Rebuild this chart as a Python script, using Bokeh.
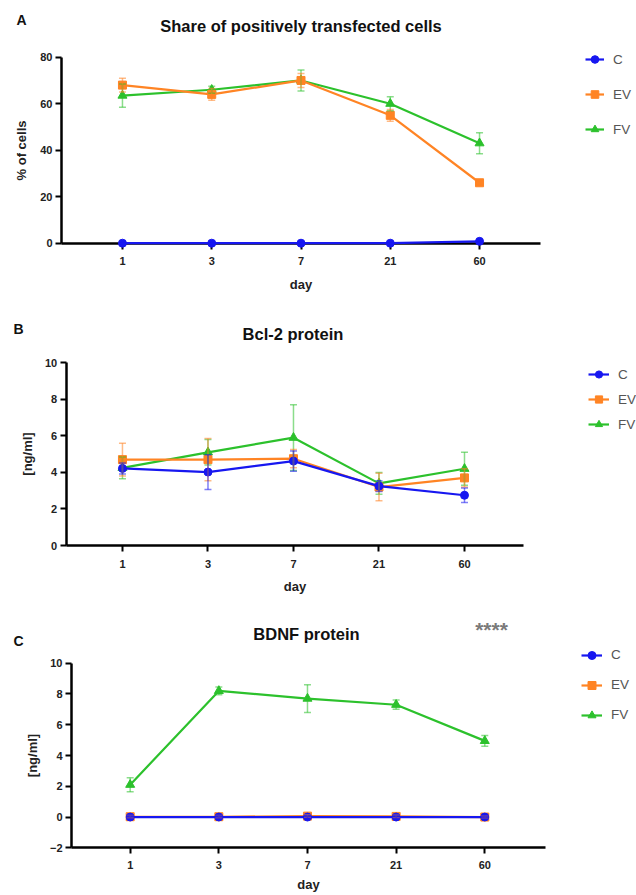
from bokeh.plotting import figure
from bokeh.models import (ColumnDataSource, Whisker, TeeHead, Range1d, Legend,
                          LegendItem, Label, FixedTicker)
from bokeh.layouts import column
from bokeh.embed import file_html
from bokeh.resources import INLINE

# ---------------- data ----------------
days = ["1", "3", "7", "21", "60"]
groups = ["C", "EV", "FV"]

# Panel A: share of positively transfected cells (%)
share_c = [0.0, 0.0, 0.0, 0.0, 0.8]
share_c_err = [0.0, 0.0, 0.0, 0.0, 0.4]
share_ev = [68.0, 64.0, 70.0, 55.0, 26.0]
share_ev_err = [3.0, 2.5, 3.0, 2.5, 1.0]
share_fv = [63.5, 66.0, 70.0, 60.0, 43.0]
share_fv_err = [5.0, 1.5, 4.5, 3.0, 4.5]
share_yticks = [0, 20, 40, 60, 80]

# Panel B: Bcl-2 protein (ng/ml)
bcl_c = [4.22, 4.02, 4.62, 3.25, 2.75]
bcl_c_err = [0.3, 0.95, 0.55, 0.3, 0.4]
bcl_ev = [4.7, 4.7, 4.75, 3.2, 3.7]
bcl_ev_err = [0.9, 1.15, 0.5, 0.75, 0.5]
bcl_fv = [4.25, 5.1, 5.9, 3.4, 4.2]
bcl_fv_err = [0.6, 0.7, 1.8, 0.6, 0.9]
bcl_yticks = [0, 2, 4, 6, 8, 10]

# Panel C: BDNF protein (ng/ml)
bdnf_c = [0.0, 0.0, 0.0, 0.0, 0.0]
bdnf_c_err = [0.08, 0.08, 0.08, 0.08, 0.08]
bdnf_ev = [0.02, 0.02, 0.06, 0.04, 0.0]
bdnf_ev_err = [0.08, 0.08, 0.08, 0.08, 0.08]
bdnf_fv = [2.1, 8.2, 7.7, 7.3, 4.95]
bdnf_fv_err = [0.45, 0.25, 0.9, 0.3, 0.35]
bdnf_yticks = [-2, 0, 2, 4, 6, 8, 10]

# ---------------- style ----------------
FONT = "Liberation Sans"
COLORS = {"C": "#1717f0", "EV": "#ff8424", "FV": "#2cc12c"}
MARKERS = {"C": "circle", "EV": "square", "FV": "triangle"}
MSIZE = {"C": 8, "EV": 8, "FV": 9}
W = 636


def make_panel(letter, title, ylabel, series, errs, yticks, fig_top, height,
               box, pads, letter_xy, title_xy, legend_spec, extra=None,
               tick_standoff=8, xlabel_standoff=8, ylabel_standoff=7):
    """box = (left, right, top, bottom) of the axes area in page pixels."""
    n = len(days)
    xs = list(range(n))
    L, R, T, B = box
    pad_l, pad_r = pads
    x0, x1 = -pad_l, n - 1 + pad_r
    y0, y1 = yticks[0], yticks[-1]
    kx = (R - L) / (x1 - x0)
    ky = (B - T) / (y1 - y0)
    fig_bottom = fig_top + height
    xr = Range1d(x0 - L / kx, x1 + (W - R) / kx)
    yr = Range1d(y0 - (fig_bottom - B) / ky, y1 + (T - fig_top) / ky)

    p = figure(width=W, height=height, output_backend="svg", toolbar_location=None,
               x_range=xr, y_range=yr, title=None,
               min_border=0, min_border_top=0, min_border_bottom=0,
               min_border_left=0, min_border_right=0)
    p.outline_line_color = None
    p.xgrid.visible = False
    p.ygrid.visible = False
    p.background_fill_color = "white"
    p.border_fill_color = "white"

    for ax in (p.xaxis[0], p.yaxis[0]):
        ax.axis_line_width = 2.5
        ax.axis_line_color = "black"
        ax.major_tick_line_width = 2
        ax.major_tick_line_color = "black"
        ax.major_tick_out = 6
        ax.major_tick_in = 0
        ax.minor_tick_out = 0
        ax.minor_tick_in = 0
        ax.major_label_text_font = FONT
        ax.major_label_text_font_size = "11px"
        ax.major_label_text_font_style = "bold"
        ax.major_label_text_color = "#222222"
        ax.axis_label_text_font = FONT
        ax.axis_label_text_font_size = "13px"
        ax.axis_label_text_font_style = "bold"
        ax.axis_label_text_color = "#222222"

    p.xaxis.fixed_location = y0
    p.xaxis.bounds = (x0, x1)
    p.xaxis.ticker = FixedTicker(ticks=xs)
    p.xaxis.major_label_overrides = {i: d for i, d in enumerate(days)}
    p.xaxis.axis_label = "day"
    p.xaxis.major_label_standoff = tick_standoff
    p.xaxis.axis_label_standoff = xlabel_standoff

    p.yaxis.fixed_location = x0
    p.yaxis.bounds = (y0, y1)
    p.yaxis.ticker = FixedTicker(ticks=yticks)
    p.yaxis.axis_label = ylabel
    p.yaxis.major_label_standoff = 3
    p.yaxis.axis_label_standoff = ylabel_standoff

    renderers = {}
    for g in ["FV", "EV", "C"]:
        vals = series[g]
        e = errs[g]
        src = ColumnDataSource(dict(x=xs, y=vals,
                                    upper=[v + d for v, d in zip(vals, e)],
                                    lower=[v - d for v, d in zip(vals, e)]))
        col = COLORS[g]
        wh = Whisker(base="x", upper="upper", lower="lower", source=src,
                     line_color=col, line_alpha=0.55, line_width=1.5, level="overlay",
                     upper_head=TeeHead(size=7, line_color=col, line_alpha=0.55, line_width=1.5),
                     lower_head=TeeHead(size=7, line_color=col, line_alpha=0.55, line_width=1.5))
        p.add_layout(wh)
        lr = p.line("x", "y", source=src, line_color=col, line_width=2.2, level="overlay")
        sr = p.scatter("x", "y", source=src, marker=MARKERS[g], size=MSIZE[g],
                       fill_color=col, line_color=col, level="overlay")
        renderers[g] = [lr, sr]

    gx, row1, gw, gh, sp = legend_spec
    leg_h = 3 * gh + 2 * sp
    leg_bottom = row1 - gh / 2 + leg_h
    leg = Legend(items=[LegendItem(label=g, renderers=renderers[g]) for g in groups],
                 location=(gx, fig_bottom - leg_bottom),
                 orientation="vertical", glyph_width=gw, glyph_height=gh,
                 label_height=gh, spacing=sp, padding=0, margin=0,
                 border_line_color=None, background_fill_alpha=0,
                 label_text_font=FONT, label_text_font_size="13.5px",
                 label_text_color="#555555", label_standoff=9)
    p.add_layout(leg)

    def screen_label(xy, text, size, color, style="bold"):
        return Label(x=xy[0], y=fig_bottom - xy[1], x_units="screen", y_units="screen",
                     text=text, text_font=FONT, text_font_size=size,
                     text_font_style=style, text_color=color,
                     text_align="center", text_baseline="middle")

    p.add_layout(screen_label(letter_xy, letter, "14px", "#111111"))
    p.add_layout(screen_label(title_xy, title, "16.5px", "#111111"))
    if extra is not None:
        p.add_layout(screen_label(extra[0], extra[1], "21px", "#7a7a7a"))
    return p


pA = make_panel("A", "Share of positively transfected cells", "% of cells",
                {"C": share_c, "EV": share_ev, "FV": share_fv},
                {"C": share_c_err, "EV": share_ev_err, "FV": share_fv_err},
                share_yticks, fig_top=0, height=305,
                box=(61, 540, 56.7, 242.7), pads=(0.683, 0.683),
                letter_xy=(21, 19), title_xy=(300.5, 25),
                legend_spec=(585, 59, 19, 20, 15), ylabel_standoff=8)

pB = make_panel("B", "Bcl-2 protein", "[ng/ml]",
                {"C": bcl_c, "EV": bcl_ev, "FV": bcl_fv},
                {"C": bcl_c_err, "EV": bcl_ev_err, "FV": bcl_fv_err},
                bcl_yticks, fig_top=305, height=297,
                box=(65.7, 523, 362.3, 545), pads=(0.658, 0.69),
                letter_xy=(18, 328), title_xy=(292.5, 333),
                legend_spec=(588, 374, 21, 18, 7))

pC = make_panel("C", "BDNF protein", "[ng/ml]",
                {"C": bdnf_c, "EV": bdnf_ev, "FV": bdnf_fv},
                {"C": bdnf_c_err, "EV": bdnf_ev_err, "FV": bdnf_fv_err},
                bdnf_yticks, fig_top=602, height=293,
                box=(71, 545, 662.7, 847.3), pads=(0.662, 0.685),
                letter_xy=(18, 640), title_xy=(306, 633),
                legend_spec=(581, 654.5, 21, 20, 10), extra=((491, 629), "****"),
                tick_standoff=7, xlabel_standoff=5)

layout = column(pA, pB, pC, spacing=0)
open("out.html", "w").write(file_html(layout, INLINE))
